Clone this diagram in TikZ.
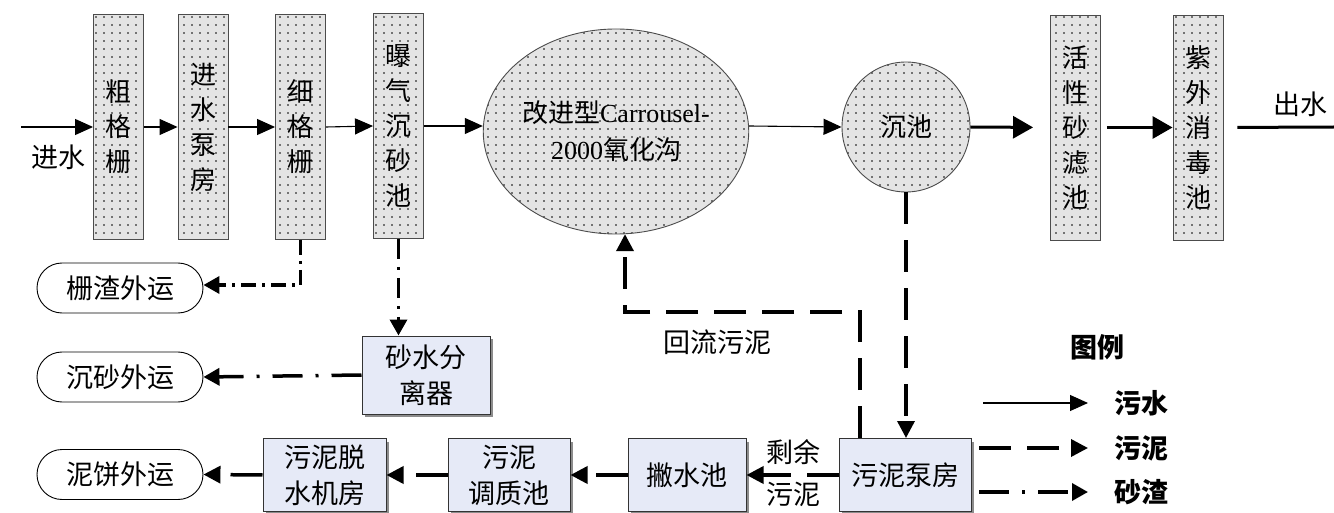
\documentclass[tikz,border=0pt]{standalone}
\usepackage{fontspec}
\setmainfont{Noto Sans CJK SC}
\newfontfamily\tnr{Liberation Serif}
\usetikzlibrary{arrows.meta,patterns.meta,shadows,shapes.geometric}
\definecolor{dotbg}{RGB}{228,228,228}
\definecolor{boxbg}{RGB}{230,234,247}
\tikzset{
  dotbox/.style={draw=black!70, line width=0.9pt, preaction={fill=dotbg},
     pattern={Dots[distance=8pt,radius=0.95pt]}, pattern color=black},
  vbox/.style={dotbox, rectangle, minimum width=50pt, minimum height=225pt, inner sep=0pt,
     align=center, font=\fontsize{26}{35}\selectfont},
  bbox/.style={rectangle, draw=black!80, line width=1pt, fill=boxbg, minimum height=73pt,
     inner sep=0pt, align=center, font=\fontsize{27}{36}\selectfont,
     drop shadow={shadow xshift=3pt, shadow yshift=-3pt, fill=black!45, opacity=1}},
  pill/.style={rectangle, rounded corners=25pt, draw=black, line width=0.9pt, fill=white,
     minimum width=166pt, minimum height=50pt, inner sep=0pt, font=\fontsize{27}{32}\selectfont},
  lbl/.style={inner sep=0pt, font=\fontsize{27}{32}\selectfont},
  water/.style={line width=1.1pt, -{Triangle[length=18pt,width=16pt]}},
  thickw/.style={line width=3pt, -{Triangle[length=20pt,width=22pt]}},
  sludge/.style={line width=3.5pt, dash pattern=on 32pt off 16pt, -{Triangle[length=17pt,width=17pt]}},
  sand/.style={line width=3.5pt, dash pattern=on 30pt off 13pt on 3pt off 13pt, -{Triangle[length=16pt,width=17pt]}},
}
\begin{document}
\begin{tikzpicture}[x=1pt,y=-1pt]
\useasboundingbox (0,0) rectangle (1334,513);
% top row
\node[vbox] (b1) at (118.5,127) {粗\\格\\栅};
\node[vbox] (b2) at (203,127) {进\\水\\泵\\房};
\node[vbox] (b3) at (300.5,127) {细\\格\\栅};
\node[vbox] (b4) at (398.5,126) {曝\\气\\沉\\砂\\池};
\node[ellipse, dotbox, minimum width=256pt, minimum height=205pt, inner sep=0pt, align=center,
      font=\fontsize{26}{37}\selectfont] (ox) at (616,131.5) {改进型{\tnr Carrousel-}\\{\tnr 2000}氧化沟};
\node[ellipse, dotbox, minimum width=128pt, minimum height=130pt, inner sep=0pt,
      font=\fontsize{26}{32}\selectfont] (cl) at (906,127) {沉池};
\node[vbox] (b5) at (1075.5,127.5) {活\\性\\砂\\滤\\池};
\node[vbox] (b6) at (1198,127.5) {紫\\外\\消\\毒\\池};
\coordinate (inl) at (21,127);
\coordinate (out) at (1334,127);
\node[lbl] (tin) at (58,157) {进水};
\node[lbl] (tout) at (1300,104) {出水};
\draw[water] (inl) -- (b1.west);
\draw[water] (b1.east) -- (b2.west);
\draw[water] (b2.east) -- (b3.west);
\draw[water] (b3.east) -- (b4.west);
\draw[water] (b4.east) -- (b4.east -| ox.west);
\draw[water] (b4.east -| ox.east) -- (cl.west);
\draw[thickw, shorten >=17pt] (cl.east) -- (b5.west);
\draw[thickw, shorten <=6pt] (b5.east) -- (b6.west);
\draw[line width=3pt, shorten <=14pt] (b6.east) -- (out);
% bottom
\node[pill] (zz) at (120,288) {栅渣外运};
\node[pill] (cs) at (120,377) {沉砂外运};
\node[pill] (nb) at (120,474.5) {泥饼外运};
\node[bbox, minimum width=128pt, minimum height=78pt] (sf) at (426,375) {砂水分\\离器};
\node[bbox, minimum width=123pt] (ts) at (324.5,475) {污泥脱\\水机房};
\node[bbox, minimum width=122pt] (tz) at (509,475) {污泥\\调质池};
\node[bbox, minimum width=118pt] (px) at (687,475) {撇水池};
\node[bbox, minimum width=132pt] (bf) at (905,475) {污泥泵房};
\draw[sand, dash pattern=on 15pt off 6pt on 3pt off 6pt] (b3.south) -- (b3.south |- 0,285) -- (zz.east |- 0,285);
\draw[sand, dash pattern=on 20pt off 8pt on 3pt off 8pt] (b4.south) -- (b4.south |- sf.north);
\draw[sand] (sf.west) -- (cs.east);
\draw[sludge] (cl.south) -- (cl.south |- bf.north);
\coordinate (rt) at ([xshift=9pt,yshift=0.3pt]ox.south);
\draw[sludge] ([xshift=-45pt]bf.north) -- ([xshift=-45pt]bf.north |- 0,312) -| (rt);
\node[lbl] (thl) at (717,342) {回流污泥};
\draw[sludge] (bf.west) -- (px.east);
\node[lbl] (ty1) at (793,452) {剩余};
\node[lbl] (ty2) at (793,494) {污泥};
\draw[sludge] (px.west) -- (tz.east);
\draw[sludge] (tz.west) -- (ts.east);
\draw[sludge] (ts.west) -- (nb.east);
% legend
\node[lbl, font=\fontsize{27}{32}\selectfont\bfseries] (lg) at (1097,347) {图例};
\coordinate (l1a) at (983,403); \coordinate (l1b) at (1088,403);
\coordinate (l2a) at (979,448); \coordinate (l2b) at (1088,448);
\coordinate (l3a) at (979,492); \coordinate (l3b) at (1088,492);
\draw[water] (l1a) -- (l1b);
\draw[sludge] (l2a) -- (l2b);
\draw[sand] (l3a) -- (l3b);
\node[lbl, font=\fontsize{27}{32}\selectfont\bfseries] (t1) at (1141,403) {污水};
\node[lbl, font=\fontsize{27}{32}\selectfont\bfseries] (t2) at (1141,448) {污泥};
\node[lbl, font=\fontsize{27}{32}\selectfont\bfseries] (t3) at (1141,492) {砂渣};
\end{tikzpicture}
\end{document}
